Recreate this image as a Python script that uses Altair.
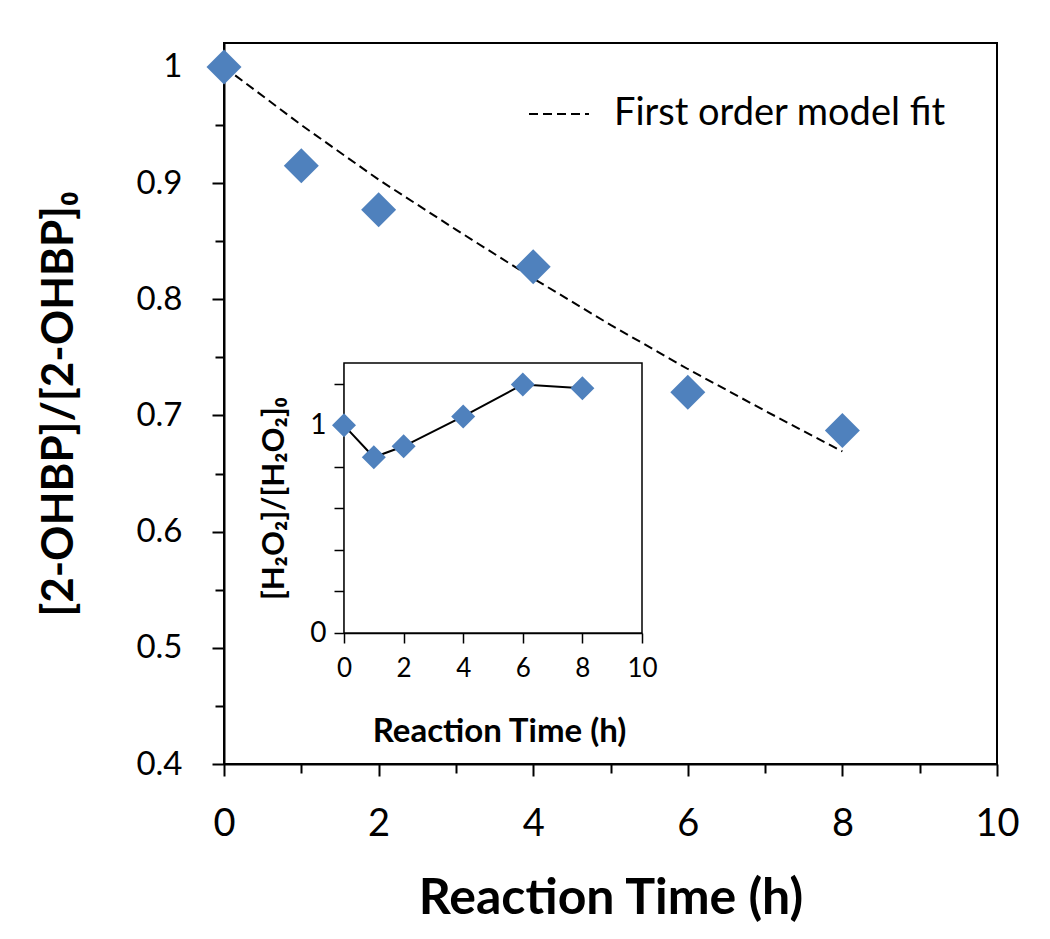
import altair as alt
import pandas as pd

# ---------------- data ----------------
time_main = [0, 1, 2, 4, 6, 8]
ratio_main = [1.0, 0.915, 0.877, 0.828, 0.720, 0.687]

fit_time = [0, 1, 2, 3, 4, 5, 6, 7, 8]
fit_ratio = [1.0, 0.950, 0.903, 0.860, 0.818, 0.778, 0.740, 0.704, 0.669]
fit_label = "First order model fit"

time_inset = [0, 1, 2, 4, 6, 8]
ratio_inset = [1.0, 0.846, 0.899, 1.043, 1.197, 1.178]

main_x_ticks = [0, 1, 2, 3, 4, 5, 6, 7, 8, 9, 10]
main_y_ticks = [0.4, 0.45, 0.5, 0.55, 0.6, 0.65, 0.7, 0.75, 0.8, 0.85, 0.9, 0.95, 1.0]
inset_x_ticks = [0, 2, 4, 6, 8, 10]
inset_y_ticks = [0, 0.2, 0.4, 0.6, 0.8, 1.0, 1.2]

# ---------------- style ----------------
FONT = "Lato"
BLUE = "#4F81BD"
W, H = 773, 721
FMT = ".2~f"

main_df = pd.DataFrame({"t": time_main, "r": ratio_main})
fit_df = pd.DataFrame({"t": fit_time, "r": fit_ratio, "series": [fit_label] * len(fit_time)})
inset_df = pd.DataFrame({"t": time_inset, "r": ratio_inset})
frame_df = pd.DataFrame({"t": [0], "t2": [10], "r": [0], "r2": [1.3]})

main_x = alt.X(
    "t:Q",
    scale=alt.Scale(domain=[0, 10], nice=False, zero=False),
    axis=alt.Axis(
        values=main_x_ticks, grid=False, title="Reaction Time (h)", format=FMT,
        labelExpr="datum.value % 2 == 0 ? datum.label : ''",
        tickSize={"condition": {"test": "datum.value % 2 == 0", "value": 12}, "value": 9},
        tickWidth=2, tickColor="black", domainColor="black", domainWidth=2,
        labelFont=FONT, labelFontSize=38, labelColor="black", labelPadding=29,
        labelFlush=False, labelOverlap=False,
        titleFont=FONT, titleFontSize=50, titleFontWeight="bold", titleColor="black",
        titleX=W / 2, titleY=149, titleBaseline="alphabetic", titleAlign="center",
    ),
)
main_y = alt.Y(
    "r:Q",
    scale=alt.Scale(domain=[0.4, 1.0206], nice=False, zero=False),
    axis=alt.Axis(
        values=main_y_ticks, grid=False, title="[2-OHBP]/[2-OHBP]₀", format=FMT,
        labelExpr="round(datum.value * 100) % 10 == 0 ? datum.label : ''",
        tickSize={"condition": {"test": "round(datum.value * 100) % 10 == 0", "value": 12}, "value": 9},
        tickWidth=2, tickColor="black", domainColor="black", domainWidth=2,
        labelFont=FONT, labelFontSize=33, labelColor="black", labelPadding=30,
        labelFlush=False, labelOverlap=False,
        titleFont=FONT, titleFontSize=44, titleFontWeight="bold", titleColor="black",
        titleX=-152, titleY=H / 2, titleBaseline="alphabetic", titleAlign="center", titleAngle=270,
    ),
)

fit = alt.Chart(fit_df).mark_line(color="black", strokeWidth=2).encode(
    x=main_x,
    y=main_y,
    strokeDash=alt.StrokeDash(
        "series:N",
        scale=alt.Scale(domain=[fit_label], range=[[9, 5]]),
        legend=alt.Legend(
            title=None, orient="none", legendX=304, legendY=40,
            labelFont=FONT, labelFontSize=38, labelColor="black", labelLimit=0,
            symbolType="stroke", symbolSize=3600, symbolStrokeWidth=2,
            symbolDash=[15, 7], symbolStrokeColor="black", labelOffset=24,
        ),
    ),
)
points = alt.Chart(main_df).mark_point(
    shape="diamond", filled=True, size=1225, color=BLUE, opacity=1
).encode(x=main_x, y=main_y)

main_layer = alt.layer(fit, points)

inset_x = alt.X(
    "t:Q",
    scale=alt.Scale(domain=[0, 10], range=[120, 418], nice=False, zero=False),
    axis=alt.Axis(
        values=inset_x_ticks, orient="bottom", offset=-131, grid=False,
        title="Reaction Time (h)", format=FMT,
        tickSize=10, tickWidth=1.5, tickColor="black", domainColor="black", domainWidth=1.5,
        labelFont=FONT, labelFontSize=26, labelColor="black", labelPadding=12,
        labelFlush=False, labelOverlap=False,
        titleFont=FONT, titleFontSize=33, titleFontWeight="bold", titleColor="black",
        titleX=275, titleY=108, titleBaseline="alphabetic", titleAlign="center",
    ),
)
inset_y = alt.Y(
    "r:Q",
    scale=alt.Scale(domain=[0, 1.3], range=[590, 320], nice=False, zero=False),
    axis=alt.Axis(
        values=inset_y_ticks, orient="left", offset=-120, grid=False,
        title="[H₂O₂]/[H₂O₂]₀", format=FMT,
        labelExpr="(datum.value == 0 || datum.value == 1) ? datum.label : ''",
        tickSize=10, tickWidth=1.5, tickColor="black", domainColor="black", domainWidth=1.5,
        labelFont=FONT, labelFontSize=28, labelColor="black", labelPadding=8,
        labelFlush=False, labelOverlap=False,
        titleFont=FONT, titleFontSize=31, titleFontWeight="bold", titleColor="black",
        titleX=-61, titleY=455, titleBaseline="alphabetic", titleAlign="center", titleAngle=270,
    ),
)

frame = alt.Chart(frame_df).mark_rect(fill="white", stroke="black", strokeWidth=1.5).encode(
    x=inset_x, x2="t2", y=inset_y, y2="r2"
)
inset_line = alt.Chart(inset_df).mark_line(color="black", strokeWidth=2).encode(x=inset_x, y=inset_y)
inset_points = alt.Chart(inset_df).mark_point(
    shape="diamond", filled=True, size=576, color=BLUE, opacity=1
).encode(x=inset_x, y=inset_y)

inset_layer = alt.layer(frame, inset_line, inset_points)

chart = (
    alt.layer(main_layer, inset_layer)
    .resolve_scale(x="independent", y="independent")
    .properties(
        width=W, height=H,
        padding={"left": 216, "top": 35, "right": 45, "bottom": 160},
        autosize=alt.AutoSizeParams(type="none"),
        background="white",
    )
    .configure_view(stroke="black", strokeWidth=2)
)

chart.save("out.html", embed_options={"renderer": "svg", "actions": False})
